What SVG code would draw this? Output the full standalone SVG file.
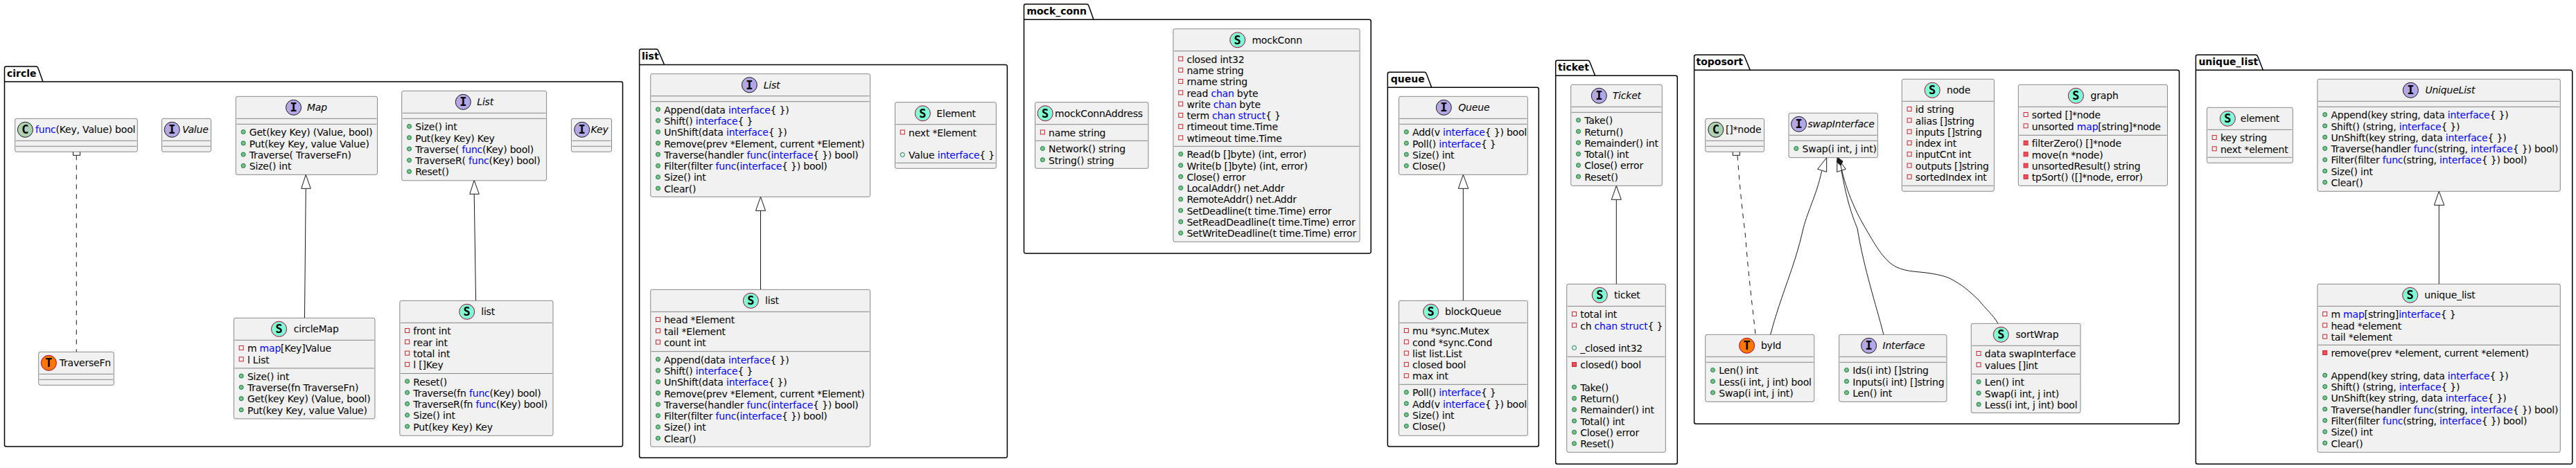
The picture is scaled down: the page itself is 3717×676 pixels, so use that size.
<svg xmlns="http://www.w3.org/2000/svg" width="3717" height="676" viewBox="0 0 3717 676">
<style>
text{font-family:"DejaVu Sans",sans-serif;font-size:14px;fill:#000;letter-spacing:-.2px}
.i{font-style:italic}
.k{fill:#00F}
.pn{font-weight:bold;letter-spacing:0}
.sp{font-family:"DejaVu Sans Mono",monospace;font-weight:bold;font-size:17px;text-anchor:middle;letter-spacing:0}
.pkg{fill:none;stroke:#000;stroke-width:1.5}
.box{fill:#F1F1F1;stroke:#181818;stroke-width:.5}
.sep{stroke:#181818;stroke-width:.5}
.S{fill:#7FFFD4;stroke:#A80036}
.T{fill:#FF7700;stroke:#A80036}
.I{fill:#B4A7E5;stroke:#181818}
.C{fill:#ADD1B2;stroke:#181818}
.ln{fill:none;stroke:#181818;stroke-width:1}
.da{stroke-dasharray:7,7}
.tri{fill:#fff;stroke:#181818;stroke-width:1}
.dia{fill:#181818;stroke:#181818;stroke-width:1}
</style>
<defs>
<circle id="m" r="3" fill="#84BE84" stroke="#038048"/>
<circle id="f" r="3" fill="none" stroke="#038048"/>
<rect id="pf" x="-3" y="-3" width="6" height="6" fill="none" stroke="#C82930"/>
<rect id="pm" x="-3" y="-3" width="6" height="6" fill="#F24D5C" stroke="#C82930"/>
</defs>

<g id="packages">
<g id="pkg-circle"><path class="pkg" d="M9,96L52.5,96A3.75,3.75 0 0 1 55,98.5L62,118L896,118A2.5,2.5 0 0 1 898.5,120.5L898.5,642.5A2.5,2.5 0 0 1 896,645L9,645A2.5,2.5 0 0 1 6.5,642.5L6.5,98.5A2.5,2.5 0 0 1 9,96ZM6.5,118L62,118"/><text class="pn" x="10" y="110.7">circle</text></g>
<g id="pkg-list"><path class="pkg" d="M925.1,71L947.5,71A3.75,3.75 0 0 1 950,73.5L958.6,93.5L1450.9,93.5A2.5,2.5 0 0 1 1453.4,96L1453.4,658.8A2.5,2.5 0 0 1 1450.9,661.3L925.1,661.3A2.5,2.5 0 0 1 922.6,658.8L922.6,73.5A2.5,2.5 0 0 1 925.1,71ZM922.6,93.5L958.6,93.5"/><text class="pn" x="926" y="86">list</text></g>
<g id="pkg-mock_conn"><path class="pkg" d="M1480,6L1568.5,6A3.75,3.75 0 0 1 1571,8.5L1578,28.3L1975.7,28.3A2.5,2.5 0 0 1 1978.2,30.8L1978.2,363.5A2.5,2.5 0 0 1 1975.7,366L1480,366A2.5,2.5 0 0 1 1477.5,363.5L1477.5,8.5A2.5,2.5 0 0 1 1480,6ZM1477.5,28.3L1578,28.3"/><text class="pn" x="1481.4" y="20.7">mock_conn</text></g>
<g id="pkg-queue"><path class="pkg" d="M2004.8,104.3L2055.8,104.3A3.75,3.75 0 0 1 2058.3,106.8L2065.7,126.3L2217.8,126.3A2.5,2.5 0 0 1 2220.3,128.8L2220.3,642.5A2.5,2.5 0 0 1 2217.8,645L2004.8,645A2.5,2.5 0 0 1 2002.3,642.5L2002.3,106.8A2.5,2.5 0 0 1 2004.8,104.3ZM2002.3,126.3L2065.7,126.3"/><text class="pn" x="2006.7" y="119">queue</text></g>
<g id="pkg-ticket"><path class="pkg" d="M2247.2,87.3L2291.5,87.3A3.75,3.75 0 0 1 2294,89.8L2301.7,109.3L2417.8,109.3A2.5,2.5 0 0 1 2420.3,111.8L2420.3,667.8A2.5,2.5 0 0 1 2417.8,670.3L2247.2,670.3A2.5,2.5 0 0 1 2244.7,667.8L2244.7,89.8A2.5,2.5 0 0 1 2247.2,87.3ZM2244.7,109.3L2301.7,109.3"/><text class="pn" x="2248" y="102">ticket</text></g>
<g id="pkg-toposort"><path class="pkg" d="M2447.1,79.3L2514.8,79.3A3.75,3.75 0 0 1 2517.3,81.8L2525.3,101.3L3142,101.3A2.5,2.5 0 0 1 3144.5,103.8L3144.5,609.8A2.5,2.5 0 0 1 3142,612.3L2447.1,612.3A2.5,2.5 0 0 1 2444.6,609.8L2444.6,81.8A2.5,2.5 0 0 1 2447.1,79.3ZM2444.6,101.3L2525.3,101.3"/><text class="pn" x="2447.5" y="94">toposort</text></g>
<g id="pkg-unique_list"><path class="pkg" d="M3170.9,79.3L3255.3,79.3A3.75,3.75 0 0 1 3257.8,81.8L3265.4,101.3L3709.2,101.3A2.5,2.5 0 0 1 3711.7,103.8L3711.7,667.8A2.5,2.5 0 0 1 3709.2,670.3L3170.9,670.3A2.5,2.5 0 0 1 3168.4,667.8L3168.4,81.8A2.5,2.5 0 0 1 3170.9,79.3ZM3168.4,101.3L3265.4,101.3"/><text class="pn" x="3172.4" y="94">unique_list</text></g>
</g>

<g id="connectors">
<path class="ln da" d="M110.3,224.3L110.3,508.3"/>
<rect class="tri" x="105.5" y="214.3" width="10" height="10"/>
<path class="ln" d="M441.3,272.3L439.5,459.3"/>
<polygon class="tri" points="441.3,252.3 434.8,272.3 448.3,272.3"/>
<path class="ln" d="M684.2,280.3L686.6,434.3"/>
<polygon class="tri" points="684.2,260.3 677.8,280.3 691.3,280.3"/>
<path class="ln" d="M1097.5,304.3L1097.5,418.3"/>
<polygon class="tri" points="1097.5,284.3 1090.5,304.3 1104.5,304.3"/>
<path class="ln" d="M2111.3,272.3L2111.3,434.3"/>
<polygon class="tri" points="2111.3,252.3 2104.3,272.3 2118.7,272.3"/>
<path class="ln" d="M2332.3,288.3L2332.3,410.3"/>
<polygon class="tri" points="2332.3,268.3 2325.3,288.3 2339.3,288.3"/>
<path class="ln" d="M3519.3,296.3L3519.3,410.3"/>
<polygon class="tri" points="3519.3,276.3 3512.4,296.3 3526.8,296.3"/>
<path class="ln da" d="M2507,224.5C2511,280 2516,320 2518.5,340C2523,400 2529,445 2533,483"/>
<rect class="tri" x="2500.3" y="214.3" width="10" height="10"/>
<path class="ln" d="M2628.7,247C2620,285 2610,300 2602,330C2590,385 2570,425 2554.6,483.3"/>
<polygon class="tri" points="2635.7,227.7 2622.7,244.3 2635.7,248.3"/>
<path class="ln" d="M2657,246.3C2665,290 2672,310 2680,330C2690,390 2707,440 2717.9,483.3"/>
<polygon class="tri" points="2651,227.7 2650.7,248.3 2663.3,244.3"/>
<path class="ln" d="M2656,239C2665,280 2680,310 2692,330C2708,358 2720,378 2737,386C2752,393 2768,392 2784,394.7C2800,397 2812,400 2822,407C2835,414 2846,425 2855,433.3C2866,447 2876,455 2883,467.3"/>
<polygon class="dia" points="2652,227.7 2659,233 2656,239 2650.5,234"/>
</g>

<g id="circle-func" transform="translate(21.7,171.3)"><rect class="box" width="176.6" height="48" rx="2.5"/><line class="sep" x1="1" x2="175.6" y1="32" y2="32"/><line class="sep" x1="1" x2="175.6" y1="40" y2="40"/><circle class="C" cx="14.7" cy="16" r="11"/><text class="sp" x="14.7" y="22">C</text><text x="29.3" y="21"><tspan class="k">func</tspan>(Key, Value) bool</text></g>
<g id="circle-Value" transform="translate(233.5,171.3)"><rect class="box" width="71" height="48" rx="2.5"/><line class="sep" x1="1" x2="70" y1="32" y2="32"/><line class="sep" x1="1" x2="70" y1="40" y2="40"/><circle class="I" cx="14.7" cy="16" r="11"/><text class="sp" x="14.7" y="22">I</text><text class="i" x="29.5" y="21">Value</text></g>
<g id="circle-Map" transform="translate(340.3,139.3)"><rect class="box" width="204.2" height="113" rx="2.5"/><line class="sep" x1="1" x2="203.2" y1="32" y2="32"/><line class="sep" x1="1" x2="203.2" y1="40" y2="40"/><circle class="I" cx="83.3" cy="16" r="11"/><text class="sp" x="83.3" y="22">I</text><text class="i" x="102.7" y="21">Map</text>
<g transform="translate(0,40)"><use href="#m" x="10.8" y="11.2"/><text x="19.5" y="17">Get(key Key) (Value, bool)</text><use href="#m" x="10.8" y="27.5"/><text x="19.5" y="33.3">Put(key Key, value Value)</text><use href="#m" x="10.8" y="43.8"/><text x="19.5" y="49.6">Traverse( TraverseFn)</text><use href="#m" x="10.8" y="60.1"/><text x="19.5" y="65.9">Size() int</text></g></g>
<g id="circle-List" transform="translate(579.7,131.3)"><rect class="box" width="208.9" height="129.5" rx="2.5"/><line class="sep" x1="1" x2="207.9" y1="32" y2="32"/><line class="sep" x1="1" x2="207.9" y1="40" y2="40"/><circle class="I" cx="88.6" cy="16" r="11"/><text class="sp" x="88.6" y="22">I</text><text class="i" x="108.6" y="21">List</text>
<g transform="translate(0,40)"><use href="#m" x="10.8" y="11.2"/><text x="19.5" y="17">Size() int</text><use href="#m" x="10.8" y="27.5"/><text x="19.5" y="33.3">Put(key Key) Key</text><use href="#m" x="10.8" y="43.8"/><text x="19.5" y="49.6">Traverse( <tspan class="k">func</tspan>(Key) bool)</text><use href="#m" x="10.8" y="60.1"/><text x="19.5" y="65.9">TraverseR( <tspan class="k">func</tspan>(Key) bool)</text><use href="#m" x="10.8" y="76.4"/><text x="19.5" y="82.2">Reset()</text></g></g>
<g id="circle-Key" transform="translate(824.4,171.3)"><rect class="box" width="58.1" height="48" rx="2.5"/><line class="sep" x1="1" x2="57.1" y1="32" y2="32"/><line class="sep" x1="1" x2="57.1" y1="40" y2="40"/><circle class="I" cx="15.3" cy="16" r="11"/><text class="sp" x="15.3" y="22">I</text><text class="i" x="28.2" y="21">Key</text></g>
<g id="circle-TraverseFn" transform="translate(55.7,508.3)"><rect class="box" width="108.6" height="48" rx="2.5"/><line class="sep" x1="1" x2="107.6" y1="32" y2="32"/><line class="sep" x1="1" x2="107.6" y1="40" y2="40"/><circle class="T" cx="14.7" cy="16" r="11"/><text class="sp" x="14.7" y="22">T</text><text x="30" y="21">TraverseFn</text></g>
<g id="circle-circleMap" transform="translate(337.4,459.3)"><rect class="box" width="203.6" height="145.6" rx="2.5"/><line class="sep" x1="1" x2="202.6" y1="32" y2="32"/><line class="sep" x1="1" x2="202.6" y1="72.6" y2="72.6"/><circle class="S" cx="65.2" cy="16" r="11"/><text class="sp" x="65.2" y="22">S</text><text x="86.3" y="21">circleMap</text>
<g transform="translate(0,32)"><use href="#pf" x="10.8" y="11.2"/><text x="19.5" y="17">m <tspan class="k">map</tspan>[Key]Value</text><use href="#pf" x="10.8" y="27.5"/><text x="19.5" y="33.3">l List</text></g>
<g transform="translate(0,72.6)"><use href="#m" x="10.8" y="11.2"/><text x="19.5" y="17">Size() int</text><use href="#m" x="10.8" y="27.5"/><text x="19.5" y="33.3">Traverse(fn TraverseFn)</text><use href="#m" x="10.8" y="43.8"/><text x="19.5" y="49.6">Get(key Key) (Value, bool)</text><use href="#m" x="10.8" y="60.1"/><text x="19.5" y="65.9">Put(key Key, value Value)</text></g></g>
<g id="circle-list" transform="translate(576.8,434.3)"><rect class="box" width="221.2" height="195" rx="2.5"/><line class="sep" x1="1" x2="220.2" y1="32" y2="32"/><line class="sep" x1="1" x2="220.2" y1="105.2" y2="105.2"/><circle class="S" cx="96.9" cy="16" r="11"/><text class="sp" x="96.9" y="22">S</text><text x="117.4" y="21">list</text>
<g transform="translate(0,32)"><use href="#pf" x="10.8" y="11.2"/><text x="19.5" y="17">front int</text><use href="#pf" x="10.8" y="27.5"/><text x="19.5" y="33.3">rear int</text><use href="#pf" x="10.8" y="43.8"/><text x="19.5" y="49.6">total int</text><use href="#pf" x="10.8" y="60.1"/><text x="19.5" y="65.9">l []Key</text></g>
<g transform="translate(0,105.2)"><use href="#m" x="10.8" y="11.2"/><text x="19.5" y="17">Reset()</text><use href="#m" x="10.8" y="27.5"/><text x="19.5" y="33.3">Traverse(fn <tspan class="k">func</tspan>(Key) bool)</text><use href="#m" x="10.8" y="43.8"/><text x="19.5" y="49.6">TraverseR(fn <tspan class="k">func</tspan>(Key) bool)</text><use href="#m" x="10.8" y="60.1"/><text x="19.5" y="65.9">Size() int</text><use href="#m" x="10.8" y="76.4"/><text x="19.5" y="82.2">Put(key Key) Key</text></g></g>

<g id="list-List" transform="translate(938.7,106.7)"><rect class="box" width="316.9" height="177.6" rx="2.5"/><line class="sep" x1="1" x2="315.9" y1="32" y2="32"/><line class="sep" x1="1" x2="315.9" y1="40" y2="40"/><circle class="I" cx="142.7" cy="16" r="11"/><text class="sp" x="142.7" y="22">I</text><text class="i" x="163" y="21">List</text>
<g transform="translate(0,40)"><use href="#m" x="10.8" y="11.2"/><text x="19.5" y="17">Append(data <tspan class="k">interface</tspan>{ })</text><use href="#m" x="10.8" y="27.5"/><text x="19.5" y="33.3">Shift() <tspan class="k">interface</tspan>{ }</text><use href="#m" x="10.8" y="43.8"/><text x="19.5" y="49.6">UnShift(data <tspan class="k">interface</tspan>{ })</text><use href="#m" x="10.8" y="60.1"/><text x="19.5" y="65.9">Remove(prev *Element, current *Element)</text><use href="#m" x="10.8" y="76.4"/><text x="19.5" y="82.2">Traverse(handler <tspan class="k">func</tspan>(<tspan class="k">interface</tspan>{ }) bool)</text><use href="#m" x="10.8" y="92.7"/><text x="19.5" y="98.5">Filter(filter <tspan class="k">func</tspan>(<tspan class="k">interface</tspan>{ }) bool)</text><use href="#m" x="10.8" y="109"/><text x="19.5" y="114.8">Size() int</text><use href="#m" x="10.8" y="125.3"/><text x="19.5" y="131.1">Clear()</text></g></g>
<g id="list-Element" transform="translate(1291.5,147.7)"><rect class="box" width="145.9" height="95.6" rx="2.5"/><line class="sep" x1="1" x2="144.9" y1="32" y2="32"/><line class="sep" x1="1" x2="144.9" y1="87.6" y2="87.6"/><circle class="S" cx="39.9" cy="16" r="11"/><text class="sp" x="39.9" y="22">S</text><text x="59.8" y="21">Element</text>
<g transform="translate(0,32)"><use href="#pf" x="10.8" y="11.2"/><text x="19.5" y="17">next *Element</text><use href="#f" x="10.8" y="43.8"/><text x="19.5" y="49.6">Value <tspan class="k">interface</tspan>{ }</text></g></g>
<g id="list-list" transform="translate(938.7,418.3)"><rect class="box" width="316.9" height="227" rx="2.5"/><line class="sep" x1="1" x2="315.9" y1="32" y2="32"/><line class="sep" x1="1" x2="315.9" y1="89.4" y2="89.4"/><circle class="S" cx="144.7" cy="16" r="11"/><text class="sp" x="144.7" y="22">S</text><text x="165.3" y="21">list</text>
<g transform="translate(0,32)"><use href="#pf" x="10.8" y="11.2"/><text x="19.5" y="17">head *Element</text><use href="#pf" x="10.8" y="27.5"/><text x="19.5" y="33.3">tail *Element</text><use href="#pf" x="10.8" y="43.8"/><text x="19.5" y="49.6">count int</text></g>
<g transform="translate(0,89.4)"><use href="#m" x="10.8" y="11.2"/><text x="19.5" y="17">Append(data <tspan class="k">interface</tspan>{ })</text><use href="#m" x="10.8" y="27.5"/><text x="19.5" y="33.3">Shift() <tspan class="k">interface</tspan>{ }</text><use href="#m" x="10.8" y="43.8"/><text x="19.5" y="49.6">UnShift(data <tspan class="k">interface</tspan>{ })</text><use href="#m" x="10.8" y="60.1"/><text x="19.5" y="65.9">Remove(prev *Element, current *Element)</text><use href="#m" x="10.8" y="76.4"/><text x="19.5" y="82.2">Traverse(handler <tspan class="k">func</tspan>(<tspan class="k">interface</tspan>{ }) bool)</text><use href="#m" x="10.8" y="92.7"/><text x="19.5" y="98.5">Filter(filter <tspan class="k">func</tspan>(<tspan class="k">interface</tspan>{ }) bool)</text><use href="#m" x="10.8" y="109"/><text x="19.5" y="114.8">Size() int</text><use href="#m" x="10.8" y="125.3"/><text x="19.5" y="131.1">Clear()</text></g></g>

<g id="mock-mockConnAddress" transform="translate(1493.6,147.7)"><rect class="box" width="163.4" height="95.6" rx="2.5"/><line class="sep" x1="1" x2="162.4" y1="32" y2="32"/><line class="sep" x1="1" x2="162.4" y1="55.6" y2="55.6"/><circle class="S" cx="14.6" cy="16" r="11"/><text class="sp" x="14.6" y="22">S</text><text x="28.5" y="21">mockConnAddress</text>
<g transform="translate(0,32)"><use href="#pf" x="10.8" y="11.2"/><text x="19.5" y="17">name string</text></g>
<g transform="translate(0,55.6)"><use href="#m" x="10.8" y="11.2"/><text x="19.5" y="17">Network() string</text><use href="#m" x="10.8" y="27.5"/><text x="19.5" y="33.3">String() string</text></g></g>
<g id="mock-mockConn" transform="translate(1692.9,41.7)"><rect class="box" width="269.2" height="307.6" rx="2.5"/><line class="sep" x1="1" x2="268.2" y1="32" y2="32"/><line class="sep" x1="1" x2="268.2" y1="169.6" y2="169.6"/><circle class="S" cx="92.8" cy="16" r="11"/><text class="sp" x="92.8" y="22">S</text><text x="113.5" y="21">mockConn</text>
<g transform="translate(0,32)"><use href="#pf" x="10.8" y="11.2"/><text x="19.5" y="17">closed int32</text><use href="#pf" x="10.8" y="27.5"/><text x="19.5" y="33.3">name string</text><use href="#pf" x="10.8" y="43.8"/><text x="19.5" y="49.6">rname string</text><use href="#pf" x="10.8" y="60.1"/><text x="19.5" y="65.9">read <tspan class="k">chan</tspan> byte</text><use href="#pf" x="10.8" y="76.4"/><text x="19.5" y="82.2">write <tspan class="k">chan</tspan> byte</text><use href="#pf" x="10.8" y="92.7"/><text x="19.5" y="98.5">term <tspan class="k">chan struct</tspan>{ }</text><use href="#pf" x="10.8" y="109"/><text x="19.5" y="114.8">rtimeout time.Time</text><use href="#pf" x="10.8" y="125.3"/><text x="19.5" y="131.1">wtimeout time.Time</text></g>
<g transform="translate(0,169.6)"><use href="#m" x="10.8" y="11.2"/><text x="19.5" y="17">Read(b []byte) (int, error)</text><use href="#m" x="10.8" y="27.5"/><text x="19.5" y="33.3">Write(b []byte) (int, error)</text><use href="#m" x="10.8" y="43.8"/><text x="19.5" y="49.6">Close() error</text><use href="#m" x="10.8" y="60.1"/><text x="19.5" y="65.9">LocalAddr() net.Addr</text><use href="#m" x="10.8" y="76.4"/><text x="19.5" y="82.2">RemoteAddr() net.Addr</text><use href="#m" x="10.8" y="92.7"/><text x="19.5" y="98.5">SetDeadline(t time.Time) error</text><use href="#m" x="10.8" y="109"/><text x="19.5" y="114.8">SetReadDeadline(t time.Time) error</text><use href="#m" x="10.8" y="125.3"/><text x="19.5" y="131.1">SetWriteDeadline(t time.Time) error</text></g></g>

<g id="queue-Queue" transform="translate(2018.5,139.3)"><rect class="box" width="185.8" height="113" rx="2.5"/><line class="sep" x1="1" x2="184.8" y1="32" y2="32"/><line class="sep" x1="1" x2="184.8" y1="40" y2="40"/><circle class="I" cx="64.8" cy="16" r="11"/><text class="sp" x="64.8" y="22">I</text><text class="i" x="85.8" y="21">Queue</text>
<g transform="translate(0,40)"><use href="#m" x="10.8" y="11.2"/><text x="19.5" y="17">Add(v <tspan class="k">interface</tspan>{ }) bool</text><use href="#m" x="10.8" y="27.5"/><text x="19.5" y="33.3">Poll() <tspan class="k">interface</tspan>{ }</text><use href="#m" x="10.8" y="43.8"/><text x="19.5" y="49.6">Size() int</text><use href="#m" x="10.8" y="60.1"/><text x="19.5" y="65.9">Close()</text></g></g>
<g id="queue-blockQueue" transform="translate(2018.5,434.3)"><rect class="box" width="185.8" height="195" rx="2.5"/><line class="sep" x1="1" x2="184.8" y1="32" y2="32"/><line class="sep" x1="1" x2="184.8" y1="121" y2="121"/><circle class="S" cx="46.2" cy="16" r="11"/><text class="sp" x="46.2" y="22">S</text><text x="66.5" y="21">blockQueue</text>
<g transform="translate(0,32)"><use href="#pf" x="10.8" y="11.2"/><text x="19.5" y="17">mu *sync.Mutex</text><use href="#pf" x="10.8" y="27.5"/><text x="19.5" y="33.3">cond *sync.Cond</text><use href="#pf" x="10.8" y="43.8"/><text x="19.5" y="49.6">list list.List</text><use href="#pf" x="10.8" y="60.1"/><text x="19.5" y="65.9">closed bool</text><use href="#pf" x="10.8" y="76.4"/><text x="19.5" y="82.2">max int</text></g>
<g transform="translate(0,121)"><use href="#m" x="10.8" y="11.2"/><text x="19.5" y="17">Poll() <tspan class="k">interface</tspan>{ }</text><use href="#m" x="10.8" y="27.5"/><text x="19.5" y="33.3">Add(v <tspan class="k">interface</tspan>{ }) bool</text><use href="#m" x="10.8" y="43.8"/><text x="19.5" y="49.6">Size() int</text><use href="#m" x="10.8" y="60.1"/><text x="19.5" y="65.9">Close()</text></g></g>

<g id="ticket-Ticket" transform="translate(2266.7,122.3)"><rect class="box" width="131.6" height="146" rx="2.5"/><line class="sep" x1="1" x2="130.6" y1="32" y2="32"/><line class="sep" x1="1" x2="130.6" y1="40" y2="40"/><circle class="I" cx="40.6" cy="16" r="11"/><text class="sp" x="40.6" y="22">I</text><text class="i" x="60" y="21">Ticket</text>
<g transform="translate(0,40)"><use href="#m" x="10.8" y="11.2"/><text x="19.5" y="17">Take()</text><use href="#m" x="10.8" y="27.5"/><text x="19.5" y="33.3">Return()</text><use href="#m" x="10.8" y="43.8"/><text x="19.5" y="49.6">Remainder() int</text><use href="#m" x="10.8" y="60.1"/><text x="19.5" y="65.9">Total() int</text><use href="#m" x="10.8" y="76.4"/><text x="19.5" y="82.2">Close() error</text><use href="#m" x="10.8" y="92.7"/><text x="19.5" y="98.5">Reset()</text></g></g>
<g id="ticket-ticket" transform="translate(2260.7,410.3)"><rect class="box" width="142.6" height="243" rx="2.5"/><line class="sep" x1="1" x2="141.6" y1="32" y2="32"/><line class="sep" x1="1" x2="141.6" y1="105" y2="105"/><circle class="S" cx="47.6" cy="16" r="11"/><text class="sp" x="47.6" y="22">S</text><text x="68.3" y="21">ticket</text>
<g transform="translate(0,32)"><use href="#pf" x="10.8" y="11.2"/><text x="19.5" y="17">total int</text><use href="#pf" x="10.8" y="27.5"/><text x="19.5" y="33.3">ch <tspan class="k">chan struct</tspan>{ }</text><use href="#f" x="10.8" y="60.1"/><text x="19.5" y="65.9">_closed int32</text></g>
<g transform="translate(0,105)"><use href="#pm" x="10.8" y="11.2"/><text x="19.5" y="17">closed() bool</text><use href="#m" x="10.8" y="43.8"/><text x="19.5" y="49.6">Take()</text><use href="#m" x="10.8" y="60.1"/><text x="19.5" y="65.9">Return()</text><use href="#m" x="10.8" y="76.4"/><text x="19.5" y="82.2">Remainder() int</text><use href="#m" x="10.8" y="92.7"/><text x="19.5" y="98.5">Total() int</text><use href="#m" x="10.8" y="109"/><text x="19.5" y="114.8">Close() error</text><use href="#m" x="10.8" y="125.3"/><text x="19.5" y="131.1">Reset()</text></g></g>

<g id="topo-nodeslice" transform="translate(2460.7,171.3)"><rect class="box" width="84.9" height="48" rx="2.5"/><line class="sep" x1="1" x2="83.9" y1="32" y2="32"/><line class="sep" x1="1" x2="83.9" y1="40" y2="40"/><circle class="C" cx="15.1" cy="16" r="11"/><text class="sp" x="15.1" y="22">C</text><text x="29.3" y="21">[]*node</text></g>
<g id="topo-swapInterface" transform="translate(2581,163.3)"><rect class="box" width="128.4" height="64.4" rx="2.5"/><line class="sep" x1="1" x2="127.4" y1="32" y2="32"/><line class="sep" x1="1" x2="127.4" y1="40" y2="40"/><circle class="I" cx="14.6" cy="16" r="11"/><text class="sp" x="14.6" y="22">I</text><text class="i" x="27.4" y="21">swapInterface</text>
<g transform="translate(0,40)"><use href="#m" x="10.8" y="11.2"/><text x="19.5" y="17">Swap(i int, j int)</text></g></g>
<g id="topo-node" transform="translate(2744.3,114.3)"><rect class="box" width="133.1" height="162" rx="2.5"/><line class="sep" x1="1" x2="132.1" y1="32" y2="32"/><line class="sep" x1="1" x2="132.1" y1="154" y2="154"/><circle class="S" cx="43.9" cy="16" r="11"/><text class="sp" x="43.9" y="22">S</text><text x="64.7" y="21">node</text>
<g transform="translate(0,32)"><use href="#pf" x="10.8" y="11.2"/><text x="19.5" y="17">id string</text><use href="#pf" x="10.8" y="27.5"/><text x="19.5" y="33.3">alias []string</text><use href="#pf" x="10.8" y="43.8"/><text x="19.5" y="49.6">inputs []string</text><use href="#pf" x="10.8" y="60.1"/><text x="19.5" y="65.9">index int</text><use href="#pf" x="10.8" y="76.4"/><text x="19.5" y="82.2">inputCnt int</text><use href="#pf" x="10.8" y="92.7"/><text x="19.5" y="98.5">outputs []string</text><use href="#pf" x="10.8" y="109"/><text x="19.5" y="114.8">sortedIndex int</text></g></g>
<g id="topo-graph" transform="translate(2912.3,122.3)"><rect class="box" width="215.2" height="146" rx="2.5"/><line class="sep" x1="1" x2="214.2" y1="32" y2="32"/><line class="sep" x1="1" x2="214.2" y1="73" y2="73"/><circle class="S" cx="83.1" cy="16" r="11"/><text class="sp" x="83.1" y="22">S</text><text x="104.3" y="21">graph</text>
<g transform="translate(0,32)"><use href="#pf" x="10.8" y="11.2"/><text x="19.5" y="17">sorted []*node</text><use href="#pf" x="10.8" y="27.5"/><text x="19.5" y="33.3">unsorted <tspan class="k">map</tspan>[string]*node</text></g>
<g transform="translate(0,73)"><use href="#pm" x="10.8" y="11.2"/><text x="19.5" y="17">filterZero() []*node</text><use href="#pm" x="10.8" y="27.5"/><text x="19.5" y="33.3">move(n *node)</text><use href="#pm" x="10.8" y="43.8"/><text x="19.5" y="49.6">unsortedResult() string</text><use href="#pm" x="10.8" y="60.1"/><text x="19.5" y="65.9">tpSort() ([]*node, error)</text></g></g>
<g id="topo-byId" transform="translate(2460.7,483.3)"><rect class="box" width="157.1" height="97" rx="2.5"/><line class="sep" x1="1" x2="156.1" y1="32" y2="32"/><line class="sep" x1="1" x2="156.1" y1="40" y2="40"/><circle class="T" cx="59.9" cy="16" r="11"/><text class="sp" x="59.9" y="22">T</text><text x="80.2" y="21">byId</text>
<g transform="translate(0,40)"><use href="#m" x="10.8" y="11.2"/><text x="19.5" y="17">Len() int</text><use href="#m" x="10.8" y="27.5"/><text x="19.5" y="33.3">Less(i int, j int) bool</text><use href="#m" x="10.8" y="43.8"/><text x="19.5" y="49.6">Swap(i int, j int)</text></g></g>
<g id="topo-Interface" transform="translate(2653.7,483.3)"><rect class="box" width="155.3" height="97" rx="2.5"/><line class="sep" x1="1" x2="154.3" y1="32" y2="32"/><line class="sep" x1="1" x2="154.3" y1="40" y2="40"/><circle class="I" cx="42.9" cy="16" r="11"/><text class="sp" x="42.9" y="22">I</text><text class="i" x="62.8" y="21">Interface</text>
<g transform="translate(0,40)"><use href="#m" x="10.8" y="11.2"/><text x="19.5" y="17">Ids(i int) []string</text><use href="#m" x="10.8" y="27.5"/><text x="19.5" y="33.3">Inputs(i int) []string</text><use href="#m" x="10.8" y="43.8"/><text x="19.5" y="49.6">Len() int</text></g></g>
<g id="topo-sortWrap" transform="translate(2844.3,467.3)"><rect class="box" width="157.7" height="129" rx="2.5"/><line class="sep" x1="1" x2="156.7" y1="32" y2="32"/><line class="sep" x1="1" x2="156.7" y1="73" y2="73"/><circle class="S" cx="43" cy="16" r="11"/><text class="sp" x="43" y="22">S</text><text x="64.2" y="21">sortWrap</text>
<g transform="translate(0,32)"><use href="#pf" x="10.8" y="11.2"/><text x="19.5" y="17">data swapInterface</text><use href="#pf" x="10.8" y="27.5"/><text x="19.5" y="33.3">values []int</text></g>
<g transform="translate(0,73)"><use href="#m" x="10.8" y="11.2"/><text x="19.5" y="17">Len() int</text><use href="#m" x="10.8" y="27.5"/><text x="19.5" y="33.3">Swap(i int, j int)</text><use href="#m" x="10.8" y="43.8"/><text x="19.5" y="49.6">Less(i int, j int) bool</text></g></g>

<g id="uniq-element" transform="translate(3184.4,155.3)"><rect class="box" width="124" height="80" rx="2.5"/><line class="sep" x1="1" x2="123" y1="32" y2="32"/><line class="sep" x1="1" x2="123" y1="72" y2="72"/><circle class="S" cx="30" cy="16" r="11"/><text class="sp" x="30" y="22">S</text><text x="48.4" y="21">element</text>
<g transform="translate(0,32)"><use href="#pf" x="10.8" y="11.2"/><text x="19.5" y="17">key string</text><use href="#pf" x="10.8" y="27.5"/><text x="19.5" y="33.3">next *element</text></g></g>
<g id="uniq-UniqueList" transform="translate(3343.9,114.3)"><rect class="box" width="350.4" height="162" rx="2.5"/><line class="sep" x1="1" x2="349.4" y1="32" y2="32"/><line class="sep" x1="1" x2="349.4" y1="40" y2="40"/><circle class="I" cx="134.5" cy="16" r="11"/><text class="sp" x="134.5" y="22">I</text><text class="i" x="155.5" y="21">UniqueList</text>
<g transform="translate(0,40)"><use href="#m" x="10.8" y="11.2"/><text x="19.5" y="17">Append(key string, data <tspan class="k">interface</tspan>{ })</text><use href="#m" x="10.8" y="27.5"/><text x="19.5" y="33.3">Shift() (string, <tspan class="k">interface</tspan>{ })</text><use href="#m" x="10.8" y="43.8"/><text x="19.5" y="49.6">UnShift(key string, data <tspan class="k">interface</tspan>{ })</text><use href="#m" x="10.8" y="60.1"/><text x="19.5" y="65.9">Traverse(handler <tspan class="k">func</tspan>(string, <tspan class="k">interface</tspan>{ }) bool)</text><use href="#m" x="10.8" y="76.4"/><text x="19.5" y="82.2">Filter(filter <tspan class="k">func</tspan>(string, <tspan class="k">interface</tspan>{ }) bool)</text><use href="#m" x="10.8" y="92.7"/><text x="19.5" y="98.5">Size() int</text><use href="#m" x="10.8" y="109"/><text x="19.5" y="114.8">Clear()</text></g></g>
<g id="uniq-unique_list" transform="translate(3343.9,410.3)"><rect class="box" width="350.4" height="243" rx="2.5"/><line class="sep" x1="1" x2="349.4" y1="32" y2="32"/><line class="sep" x1="1" x2="349.4" y1="88" y2="88"/><circle class="S" cx="133.8" cy="16" r="11"/><text class="sp" x="133.8" y="22">S</text><text x="154.4" y="21">unique_list</text>
<g transform="translate(0,32)"><use href="#pf" x="10.8" y="11.2"/><text x="19.5" y="17">m <tspan class="k">map</tspan>[string]<tspan class="k">interface</tspan>{ }</text><use href="#pf" x="10.8" y="27.5"/><text x="19.5" y="33.3">head *element</text><use href="#pf" x="10.8" y="43.8"/><text x="19.5" y="49.6">tail *element</text></g>
<g transform="translate(0,88)"><use href="#pm" x="10.8" y="11.2"/><text x="19.5" y="17">remove(prev *element, current *element)</text><use href="#m" x="10.8" y="43.8"/><text x="19.5" y="49.6">Append(key string, data <tspan class="k">interface</tspan>{ })</text><use href="#m" x="10.8" y="60.1"/><text x="19.5" y="65.9">Shift() (string, <tspan class="k">interface</tspan>{ })</text><use href="#m" x="10.8" y="76.4"/><text x="19.5" y="82.2">UnShift(key string, data <tspan class="k">interface</tspan>{ })</text><use href="#m" x="10.8" y="92.7"/><text x="19.5" y="98.5">Traverse(handler <tspan class="k">func</tspan>(string, <tspan class="k">interface</tspan>{ }) bool)</text><use href="#m" x="10.8" y="109"/><text x="19.5" y="114.8">Filter(filter <tspan class="k">func</tspan>(string, <tspan class="k">interface</tspan>{ }) bool)</text><use href="#m" x="10.8" y="125.3"/><text x="19.5" y="131.1">Size() int</text><use href="#m" x="10.8" y="141.6"/><text x="19.5" y="147.4">Clear()</text></g></g>
</svg>
